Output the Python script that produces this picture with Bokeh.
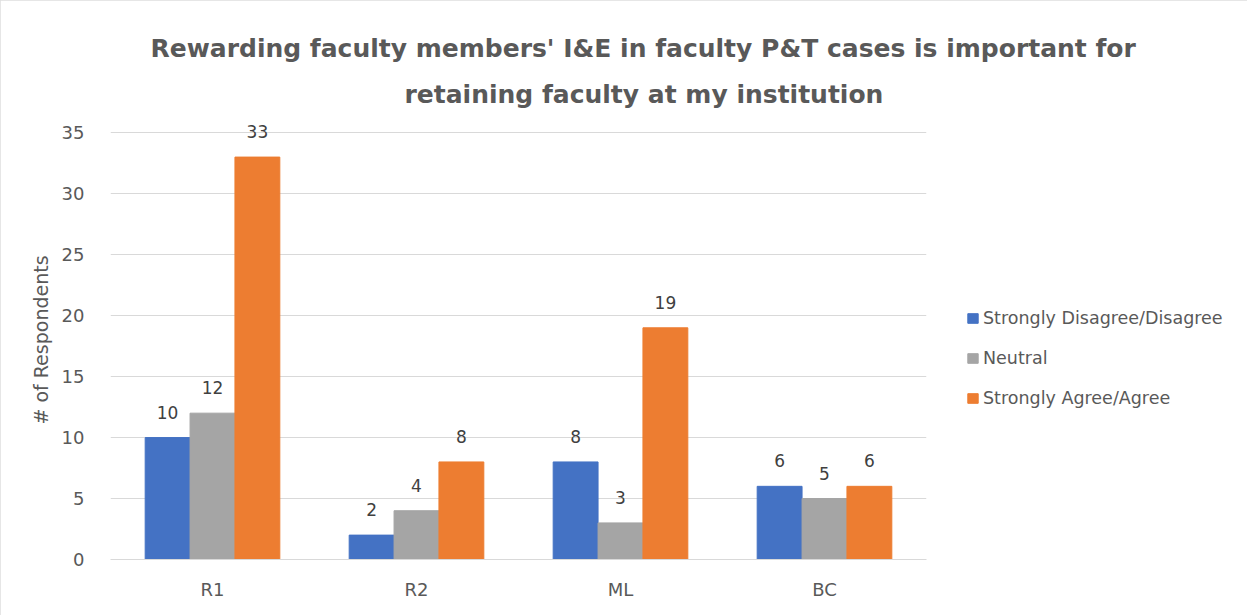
from bokeh.plotting import figure
from bokeh.models import FactorRange, Range1d, Legend, LegendItem, Title, ColumnDataSource
from bokeh.transform import dodge
from bokeh.core.properties import value
from bokeh.embed import file_html
from bokeh.resources import INLINE

categories = ["R1", "R2", "ML", "BC"]
series_names = ["Strongly Disagree/Disagree", "Neutral", "Strongly Agree/Agree"]
disagree = [10, 2, 8, 6]
neutral = [12, 4, 3, 5]
agree = [33, 8, 19, 6]
colors = ["#4472C4", "#A5A5A5", "#ED7D31"]
y_ticks = [0, 5, 10, 15, 20, 25, 30, 35]
title_lines = ["Rewarding faculty members' I&E in faculty P&T cases is important for",
               "retaining faculty at my institution"]
y_label = "# of Respondents"

FONT = "DejaVu Sans"
TXT = "#595959"

src = ColumnDataSource(dict(
    cat=categories, d=disagree, n=neutral, a=agree,
    dl=[str(v) for v in disagree], nl=[str(v) for v in neutral], al=[str(v) for v in agree],
))

p = figure(x_range=FactorRange(*categories, range_padding=0), y_range=Range1d(0, 36),
           frame_width=816, frame_height=439, output_backend="svg", toolbar_location=None,
           min_border_left=110, min_border_right=321, min_border_top=120, min_border_bottom=56,
           styles={"outline": "2px solid #dedede", "outline-offset": "-2px"})

bw = 0.22
offsets = [-bw, 0, bw]
cols = ["d", "n", "a"]
labs = ["dl", "nl", "al"]
items = []
for off, c, l, col, name in zip(offsets, cols, labs, colors, series_names):
    r = p.vbar(x=dodge("cat", off, range=p.x_range), top=c, width=bw, source=src,
               fill_color=col, line_color=col)
    items.append(LegendItem(label=name, renderers=[r]))
    p.text(x=dodge("cat", off, range=p.x_range), y=c, text=l, source=src,
           text_align="center", text_baseline="bottom", y_offset=-19,
           text_font=value(FONT), text_font_size="17px", text_color="#404040")

p.outline_line_color = None
p.xgrid.grid_line_color = None
p.ygrid.grid_line_color = "#d9d9d9"
p.ygrid.grid_line_width = 1
p.yaxis.ticker = y_ticks
p.yaxis.axis_line_color = None
p.yaxis.major_tick_line_color = None
p.yaxis.minor_tick_line_color = None
p.yaxis.major_label_standoff = 20
p.yaxis.axis_label = y_label
p.yaxis.axis_label_standoff = 7
p.yaxis.axis_label_text_font = FONT
p.yaxis.axis_label_text_font_style = "normal"
p.yaxis.axis_label_text_font_size = "19px"
p.yaxis.axis_label_text_color = TXT
p.xaxis.axis_line_color = "#d9d9d9"
p.xaxis.major_tick_line_color = None
p.xaxis.minor_tick_line_color = None
p.xaxis.major_label_standoff = 13
for ax in (p.xaxis, p.yaxis):
    ax.major_label_text_font = FONT
    ax.major_label_text_font_size = "18px"
    ax.major_label_text_color = TXT

t2 = Title(text=title_lines[1], align="left", offset=294, text_font=FONT,
           text_font_size="25px", text_font_style="bold", text_color=TXT, standoff=23)
t1 = Title(text=title_lines[0], align="left", offset=40, text_font=FONT,
           text_font_size="25px", text_font_style="bold", text_color=TXT, standoff=8)
p.add_layout(t2, "above")
p.add_layout(t1, "above")

legend = Legend(items=items, location=(40, 151), orientation="vertical",
                label_text_font=FONT, label_text_font_size="17.5px", label_text_color=TXT,
                glyph_width=13, glyph_height=12, label_height=20, spacing=20,
                label_standoff=4, padding=0, margin=0, border_line_color=None,
                background_fill_alpha=0)
p.add_layout(legend, "right")

open("out.html", "w").write(file_html(p, INLINE))
